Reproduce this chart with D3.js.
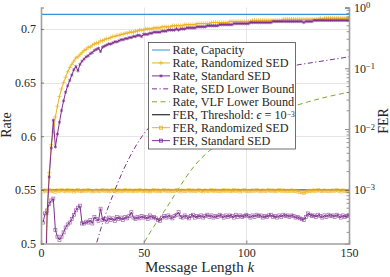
<!DOCTYPE html>
<html>
<head>
<meta charset="utf-8">
<script src="https://cdn.jsdelivr.net/npm/d3@7"></script>
<style>
  body { margin: 0; background: #fff; }
</style>
</head>
<body>
<div id="chart"></div>
<script>
// message length k for the simulated points
const messageLengths = d3.range(1, 151);

const rateCapacity = 0.7136;
const ferThreshold = 1e-3;

const rateRandomized = [
  0.352, 0.470, 0.530, 0.566, 0.592, 0.604, 0.618, 0.628, 0.637, 0.644,
  0.650, 0.655, 0.660, 0.664, 0.667, 0.670, 0.673, 0.674, 0.676, 0.678,
  0.680, 0.681, 0.683, 0.683, 0.685, 0.686, 0.687, 0.687, 0.689, 0.689,
  0.690, 0.691, 0.691, 0.692, 0.693, 0.693, 0.694, 0.694, 0.695, 0.695,
  0.696, 0.696, 0.697, 0.697, 0.697, 0.698, 0.698, 0.699, 0.699, 0.699,
  0.700, 0.700, 0.700, 0.700, 0.701, 0.701, 0.701, 0.701, 0.702, 0.702,
  0.702, 0.702, 0.702, 0.703, 0.703, 0.703, 0.703, 0.703, 0.703, 0.704,
  0.704, 0.704, 0.704, 0.704, 0.704, 0.705, 0.705, 0.705, 0.705, 0.705,
  0.705, 0.705, 0.706, 0.706, 0.706, 0.706, 0.706, 0.706, 0.706, 0.706,
  0.706, 0.707, 0.707, 0.707, 0.707, 0.707, 0.707, 0.707, 0.707, 0.707,
  0.707, 0.707, 0.708, 0.708, 0.708, 0.708, 0.708, 0.708, 0.708, 0.708,
  0.708, 0.708, 0.708, 0.708, 0.708, 0.708, 0.708, 0.709, 0.709, 0.709,
  0.709, 0.709, 0.709, 0.709, 0.709, 0.709, 0.709, 0.709, 0.709, 0.709,
  0.709, 0.709, 0.709, 0.709, 0.709, 0.710, 0.709, 0.710, 0.710, 0.710,
  0.710, 0.710, 0.710, 0.710, 0.710, 0.710, 0.710, 0.710, 0.710, 0.710
];

const rateStandard = [
  0.300, 0.440, 0.528, 0.562, 0.589, 0.615, 0.590, 0.602, 0.613, 0.624,
  0.633, 0.641, 0.647, 0.652, 0.657, 0.662, 0.665, 0.661, 0.667, 0.670,
  0.672, 0.674, 0.675, 0.677, 0.678, 0.680, 0.681, 0.682, 0.679, 0.683,
  0.684, 0.685, 0.686, 0.686, 0.687, 0.688, 0.688, 0.689, 0.690, 0.690,
  0.691, 0.691, 0.692, 0.692, 0.693, 0.693, 0.694, 0.694, 0.693, 0.695,
  0.695, 0.695, 0.696, 0.696, 0.697, 0.697, 0.697, 0.697, 0.698, 0.698,
  0.698, 0.699, 0.699, 0.699, 0.699, 0.700, 0.699, 0.700, 0.700, 0.700,
  0.701, 0.701, 0.701, 0.701, 0.701, 0.702, 0.702, 0.702, 0.702, 0.702,
  0.703, 0.703, 0.703, 0.703, 0.703, 0.703, 0.704, 0.704, 0.704, 0.704,
  0.704, 0.704, 0.704, 0.705, 0.705, 0.705, 0.705, 0.705, 0.705, 0.705,
  0.705, 0.706, 0.706, 0.706, 0.706, 0.706, 0.706, 0.706, 0.706, 0.706,
  0.706, 0.706, 0.707, 0.707, 0.707, 0.707, 0.707, 0.707, 0.707, 0.707,
  0.707, 0.707, 0.707, 0.707, 0.707, 0.707, 0.707, 0.706, 0.707, 0.707,
  0.707, 0.707, 0.708, 0.708, 0.708, 0.708, 0.708, 0.708, 0.708, 0.708,
  0.708, 0.708, 0.708, 0.708, 0.708, 0.708, 0.708, 0.708, 0.708, 0.708
];

const ferRandomized = [
  9.4e-4, 9.8e-4, 9.6e-4, 9.9e-4, 9.5e-4, 9.7e-4, 9.3e-4, 9.8e-4, 9.6e-4, 9.9e-4,
  9.7e-4, 9.5e-4, 9.9e-4, 9.6e-4, 9.8e-4, 9.4e-4, 9.7e-4, 9.9e-4, 9.6e-4, 9.5e-4,
  9.8e-4, 9.6e-4, 9.9e-4, 9.7e-4, 9.4e-4, 9.6e-4, 9.8e-4, 9.5e-4, 9.7e-4, 9.9e-4,
  9.6e-4, 9.8e-4, 9.5e-4, 9.7e-4, 9.9e-4, 9.6e-4, 9.4e-4, 9.8e-4, 9.7e-4, 9.5e-4,
  9.9e-4, 9.6e-4, 9.8e-4, 9.7e-4, 9.5e-4, 9.8e-4, 9.6e-4, 1.0e-3, 9.7e-4, 9.5e-4,
  9.8e-4, 9.6e-4, 9.4e-4, 9.7e-4, 9.9e-4, 9.6e-4, 9.8e-4, 9.5e-4, 9.7e-4, 9.9e-4,
  9.6e-4, 9.8e-4, 9.5e-4, 9.7e-4, 9.6e-4, 9.9e-4, 9.7e-4, 9.4e-4, 9.8e-4, 9.6e-4,
  9.7e-4, 9.9e-4, 9.5e-4, 9.8e-4, 9.6e-4, 9.7e-4, 9.9e-4, 9.6e-4, 9.4e-4, 9.8e-4,
  9.6e-4, 9.7e-4, 9.9e-4, 9.5e-4, 9.8e-4, 9.6e-4, 9.7e-4, 9.5e-4, 9.9e-4, 9.6e-4,
  9.8e-4, 9.7e-4, 9.5e-4, 9.9e-4, 9.6e-4, 9.8e-4, 9.4e-4, 9.7e-4, 9.9e-4, 9.6e-4,
  9.7e-4, 9.5e-4, 9.8e-4, 9.6e-4, 9.9e-4, 9.7e-4, 9.5e-4, 9.8e-4, 9.6e-4, 9.7e-4,
  9.9e-4, 9.6e-4, 9.8e-4, 9.5e-4, 9.7e-4, 9.9e-4, 9.6e-4, 9.8e-4, 9.5e-4, 9.7e-4,
  9.6e-4, 9.8e-4, 9.5e-4, 9.7e-4, 9.4e-4, 9.3e-4, 9.1e-4, 8.9e-4, 9.3e-4, 9.6e-4,
  9.7e-4, 9.5e-4, 9.8e-4, 9.6e-4, 9.9e-4, 9.7e-4, 9.5e-4, 9.8e-4, 9.6e-4, 9.7e-4,
  9.5e-4, 9.8e-4, 9.6e-4, 9.9e-4, 9.7e-4, 9.4e-4, 9.8e-4, 9.6e-4, 9.5e-4, 9.7e-4
];

const ferStandard = [
  2.9e-4, 4.1e-4, 4.6e-4, 5.9e-4, 6.7e-4, 7.2e-4, 2.2e-4, 1.7e-4, 1.5e-4, 1.7e-4,
  2.0e-4, 2.4e-4, 2.7e-4, 2.9e-4, 3.3e-4, 3.9e-4, 4.6e-4, 5.1e-4, 5.5e-4, 2.8e-4,
  2.8e-4, 3.0e-4, 2.9e-4, 3.2e-4, 2.8e-4, 3.6e-4, 3.3e-4, 3.1e-4, 4.9e-4, 3.2e-4,
  3.3e-4, 3.0e-4, 3.5e-4, 3.2e-4, 3.4e-4, 3.1e-4, 3.6e-4, 3.3e-4, 3.5e-4, 3.2e-4,
  3.6e-4, 3.4e-4, 3.7e-4, 4.3e-4, 3.5e-4, 3.3e-4, 3.6e-4, 3.4e-4, 3.7e-4, 3.5e-4,
  3.6e-4, 3.3e-4, 3.8e-4, 3.5e-4, 3.6e-4, 3.4e-4, 3.2e-4, 3.1e-4, 3.5e-4, 3.7e-4,
  3.5e-4, 3.8e-4, 3.6e-4, 3.4e-4, 3.7e-4, 3.9e-4, 4.3e-4, 3.6e-4, 3.5e-4, 3.8e-4,
  3.6e-4, 3.4e-4, 3.7e-4, 3.9e-4, 3.5e-4, 3.7e-4, 3.6e-4, 3.8e-4, 3.5e-4, 3.7e-4,
  3.9e-4, 3.6e-4, 3.8e-4, 3.5e-4, 3.7e-4, 3.6e-4, 3.9e-4, 3.7e-4, 3.5e-4, 3.8e-4,
  3.6e-4, 3.8e-4, 3.7e-4, 3.5e-4, 3.9e-4, 3.6e-4, 3.8e-4, 3.6e-4, 3.7e-4, 3.9e-4,
  3.7e-4, 3.5e-4, 3.8e-4, 3.6e-4, 3.9e-4, 3.7e-4, 3.8e-4, 3.5e-4, 3.7e-4, 3.6e-4,
  3.8e-4, 3.9e-4, 3.6e-4, 3.7e-4, 3.5e-4, 3.8e-4, 3.6e-4, 3.9e-4, 3.7e-4, 3.8e-4,
  3.6e-4, 3.8e-4, 3.7e-4, 3.5e-4, 3.6e-4, 3.4e-4, 3.3e-4, 3.2e-4, 3.6e-4, 4.1e-4,
  3.9e-4, 3.7e-4, 3.8e-4, 3.6e-4, 3.9e-4, 3.7e-4, 3.5e-4, 3.8e-4, 3.6e-4, 3.9e-4,
  3.7e-4, 3.8e-4, 3.6e-4, 3.9e-4, 3.7e-4, 3.5e-4, 3.8e-4, 3.6e-4, 3.7e-4, 3.8e-4
];

// analytical bounds, read at a few message lengths
const sedBoundK    = [20, 25, 27, 30, 35, 40, 45, 50, 55, 60, 70, 80, 90, 100, 110, 120, 130, 140, 150];
const sedBoundRate = [0.440, 0.488, 0.500, 0.519, 0.545, 0.568, 0.587, 0.602, 0.613, 0.622, 0.636, 0.646, 0.653, 0.658, 0.662, 0.665, 0.668, 0.671, 0.674];
const vlfBoundK    = [45, 50, 55, 60, 65, 70, 75, 80, 85, 90, 100, 110, 120, 130, 140, 150];
const vlfBoundRate = [0.480, 0.500, 0.516, 0.530, 0.545, 0.560, 0.573, 0.583, 0.591, 0.598, 0.609, 0.618, 0.626, 0.632, 0.637, 0.641];

const xTicks = [0, 50, 100, 150];
const rateTicks = [0.5, 0.55, 0.6, 0.65, 0.7];
const ferTicks = [1e-3, 1e-2, 1e-1, 1];
const ferTickExponents = ["\u22123", "\u22122", "\u22121", "0"];

const legendLabels = [
  "Rate, Capacity",
  "Rate, Randomized SED",
  "Rate, Standard SED",
  "Rate, SED Lower Bound",
  "Rate, VLF Lower Bound",
  "FER, Threshold: ",
  "FER, Randomized SED",
  "FER, Standard SED"
];

(function() {
  "use strict";

  var width = 390, height = 277;
  var left = 41, right = 349, top = 7.5, bottom = 243.5;
  var serif = "'Liberation Serif', 'DejaVu Serif', serif";

  var blue = "#3592d8", orange = "#edb120", purple = "#7e2f8e", green = "#77ac30";

  var svg = d3.select("#chart").append("svg")
    .attr("width", width)
    .attr("height", height)
    .style("font-family", serif);

  var x = d3.scaleLinear().domain([0, 150]).range([left, right]);
  var yRate = d3.scaleLinear().domain([0.5, 0.72]).range([bottom, top]);
  // log axis lined up so that 1e-3 sits on rate 0.55
  var yFer = d3.scaleLog().domain([1.312e-4, 1]).range([bottom, top]);

  svg.append("clipPath").attr("id", "plot-clip")
    .append("rect")
    .attr("x", left).attr("y", top)
    .attr("width", right - left).attr("height", bottom - top);

  // grid
  var grid = svg.append("g").attr("stroke", "#e6e6e6").attr("stroke-width", 1);
  grid.selectAll("line.h").data(rateTicks.slice(1)).enter().append("line")
    .attr("x1", left).attr("x2", right)
    .attr("y1", d => Math.round(yRate(d)) + 0.5).attr("y2", d => Math.round(yRate(d)) + 0.5);
  grid.selectAll("line.v").data(xTicks.slice(1, 3)).enter().append("line")
    .attr("y1", top).attr("y2", bottom)
    .attr("x1", d => Math.round(x(d)) + 0.5).attr("x2", d => Math.round(x(d)) + 0.5);

  var plot = svg.append("g").attr("clip-path", "url(#plot-clip)");

  var rateLine = d3.line().x((d, i) => x(messageLengths[i])).y(d => yRate(d));
  var ferLine = d3.line().x((d, i) => x(messageLengths[i])).y(d => yFer(d));

  // FER threshold
  plot.append("line")
    .attr("x1", left).attr("x2", right)
    .attr("y1", yFer(ferThreshold)).attr("y2", yFer(ferThreshold))
    .attr("stroke", "#000").attr("stroke-width", 0.8);

  // lower bounds
  plot.append("path")
    .datum(sedBoundRate)
    .attr("d", d3.line().curve(d3.curveMonotoneX).x((d, i) => x(sedBoundK[i])).y(d => yRate(d)))
    .attr("fill", "none").attr("stroke", purple).attr("stroke-width", 1)
    .attr("stroke-dasharray", "5,2.5,1.2,2.5");
  plot.append("path")
    .datum(vlfBoundRate)
    .attr("d", d3.line().curve(d3.curveMonotoneX).x((d, i) => x(vlfBoundK[i])).y(d => yRate(d)))
    .attr("fill", "none").attr("stroke", green).attr("stroke-width", 1)
    .attr("stroke-dasharray", "5,3.5");

  function addSquares(g, values, scale, color) {
    g.selectAll(null).data(values).enter().append("rect")
      .attr("x", (d, i) => x(messageLengths[i]) - 1.5)
      .attr("y", d => scale(d) - 1.5)
      .attr("width", 3).attr("height", 3)
      .attr("fill", "none").attr("stroke", color).attr("stroke-opacity", 0.75)
      .attr("stroke-width", 0.7);
  }

  function addSymbols(g, values, scale, color, type, size) {
    var sym = d3.symbol().type(type).size(size);
    g.selectAll(null).data(values).enter().append("path")
      .attr("d", sym)
      .attr("transform", (d, i) => `translate(${x(messageLengths[i])},${scale(d)})`)
      .attr("fill", "none").attr("stroke", color).attr("stroke-width", 0.7);
  }

  // FER curves
  plot.append("path").datum(ferRandomized).attr("d", ferLine)
    .attr("fill", "none").attr("stroke", orange).attr("stroke-width", 1);
  addSquares(plot.append("g"), ferRandomized, yFer, orange);
  plot.append("path").datum(ferStandard).attr("d", ferLine)
    .attr("fill", "none").attr("stroke", purple).attr("stroke-width", 1);
  addSquares(plot.append("g"), ferStandard, yFer, purple);

  // rate curves
  plot.append("path").datum(rateRandomized).attr("d", rateLine)
    .attr("fill", "none").attr("stroke", orange).attr("stroke-width", 1);
  addSymbols(plot.append("g"), rateRandomized, yRate, orange, d3.symbolPlus, 7);
  plot.append("path").datum(rateStandard).attr("d", rateLine)
    .attr("fill", "none").attr("stroke", purple).attr("stroke-width", 1);
  addSymbols(plot.append("g"), rateStandard, yRate, purple, d3.symbolAsterisk, 8);

  plot.append("line")
    .attr("x1", left).attr("x2", right)
    .attr("y1", yRate(rateCapacity)).attr("y2", yRate(rateCapacity))
    .attr("stroke", blue).attr("stroke-width", 1.2);

  // axes
  var axisColor = "#a0a0a0";

  var gx = svg.append("g").attr("transform", `translate(0,${bottom})`)
    .call(d3.axisBottom(x).tickValues(xTicks).tickSize(-3).tickPadding(5).tickFormat(d3.format("d")));
  var gl = svg.append("g").attr("transform", `translate(${left},0)`)
    .call(d3.axisLeft(yRate).tickValues(rateTicks).tickSize(-3).tickPadding(5).tickFormat(d => String(d)));
  var gr = svg.append("g").attr("transform", `translate(${right},0)`)
    .call(d3.axisRight(yFer).tickValues(ferTicks).tickSize(-4).tickPadding(5).tickFormat(""));

  // minor log ticks
  gr.selectAll("line.minor").data(yFer.ticks().filter(d => ferTicks.indexOf(d) < 0))
    .enter().append("line").attr("class", "minor")
    .attr("x1", 0).attr("x2", -2.5)
    .attr("y1", d => yFer(d)).attr("y2", d => yFer(d))
    .attr("stroke", "#555").attr("stroke-width", 0.6);

  [gx, gl, gr].forEach(function(g) {
    g.attr("font-family", serif);
    g.select(".domain").attr("stroke", axisColor).attr("stroke-width", 1.6);
    g.selectAll(".tick line").attr("stroke", "#555").attr("stroke-width", 0.7);
    g.selectAll("text").attr("font-size", 12).style("font-family", serif).attr("fill", "#262626");
  });

  gr.selectAll(".tick text").each(function(d, i) {
    var t = d3.select(this);
    t.text(null);
    t.append("tspan").text("10");
    t.append("tspan").attr("dy", "-0.45em").attr("font-size", 8.5).text(ferTickExponents[i]);
  });

  // axis titles
  svg.append("text")
    .attr("x", 145).attr("y", 271.5)
    .attr("font-size", 15)
    .style("font-family", serif).attr("fill", "#262626")
    .call(t => {
      t.append("tspan").text("Message Length ");
      t.append("tspan").attr("font-style", "italic").text("k");
    });
  svg.append("text")
    .attr("transform", `translate(11,125) rotate(-90)`)
    .attr("text-anchor", "middle").attr("font-size", 14)
    .style("font-family", serif).attr("fill", "#262626")
    .text("Rate");
  svg.append("text")
    .attr("transform", `translate(388,121) rotate(-90)`)
    .attr("text-anchor", "middle").attr("font-size", 14)
    .style("font-family", serif).attr("fill", "#262626")
    .text("FER");

  // legend
  var lx = 148.5, ly = 42.5, rowH = 12.95;
  var legend = svg.append("g");
  legend.append("rect")
    .attr("x", lx).attr("y", ly).attr("width", 147).attr("height", 106.5)
    .attr("fill", "#fff").attr("stroke", "#333").attr("stroke-width", 0.7);

  var legendStyles = [
    {color: blue, dash: null},
    {color: orange, dash: null, marker: "plus"},
    {color: purple, dash: null, marker: "star"},
    {color: purple, dash: "5,2.5,1.2,2.5"},
    {color: green, dash: "5,3.5"},
    {color: "#000", dash: null},
    {color: orange, dash: null, marker: "square"},
    {color: purple, dash: null, marker: "square"}
  ];

  legendLabels.forEach(function(label, i) {
    var cy = ly + 7.5 + i * rowH;
    var st = legendStyles[i];
    legend.append("line")
      .attr("x1", lx + 3.5).attr("x2", lx + 21.5)
      .attr("y1", cy).attr("y2", cy)
      .attr("stroke", st.color).attr("stroke-width", 1)
      .attr("stroke-dasharray", st.dash);
    if (st.marker === "square") {
      legend.append("rect").attr("x", lx + 11).attr("y", cy - 1.5)
        .attr("width", 3).attr("height", 3)
        .attr("fill", "none").attr("stroke", st.color).attr("stroke-width", 0.8);
    } else if (st.marker) {
      legend.append("path")
        .attr("d", d3.symbol().type(st.marker === "plus" ? d3.symbolPlus : d3.symbolAsterisk).size(8))
        .attr("transform", `translate(${lx + 12.5},${cy})`)
        .attr("fill", "none").attr("stroke", st.color).attr("stroke-width", 0.8);
    }
    var text = legend.append("text")
      .attr("x", lx + 24).attr("y", cy).attr("dy", "0.35em")
      .attr("font-size", 12.2)
      .style("font-family", serif).attr("fill", "#262626");
    text.append("tspan").text(label);
    if (i === 5) {
      text.append("tspan").attr("font-style", "italic").text("\u03f5");
      text.append("tspan").text(" = 10");
      text.append("tspan").attr("dy", "-0.3em").attr("font-size", 7.5).text("\u22123");
    }
  });
})();
</script>
</body>
</html>
